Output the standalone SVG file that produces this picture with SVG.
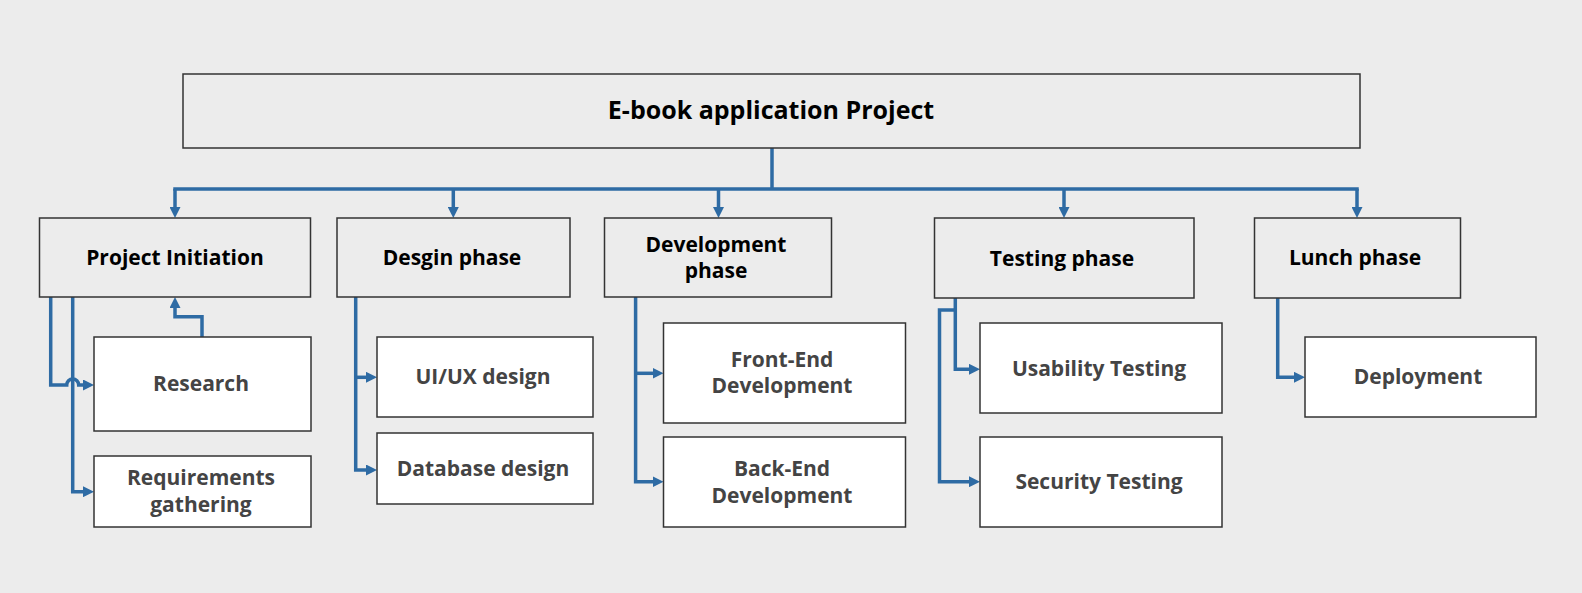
<svg xmlns="http://www.w3.org/2000/svg" width="1582" height="593" viewBox="0 0 1582 593">
<style>
.bg{fill:#ececec}
.phase{fill:#ececec;stroke:#333;stroke-width:1.5}
.child{fill:#ffffff;stroke:#333;stroke-width:1.5}
.t{font-family:"Open Sans","Noto Sans",sans-serif;font-weight:bold;text-anchor:middle}
.pt{font-size:21px;fill:#000}
.ct{font-size:21px;fill:#444}
.tt{font-size:25px;fill:#000}
.c{fill:none;stroke:#2e6ba4;stroke-width:3.5;stroke-linejoin:miter}
</style>
<defs>
<marker id="ah" markerUnits="userSpaceOnUse" markerWidth="11" markerHeight="11" refX="1" refY="5.5" orient="auto">
<path d="M0,0 L11,5.5 L0,11 z" fill="#2e6ba4"/>
</marker>
</defs>
<rect class="bg" x="0" y="0" width="1582" height="593"/>

<g id="connectors">
<path class="c" d="M772,148 V189"/>
<path class="c" d="M175,189 H1357" stroke-linecap="square"/>
<path class="c" d="M175,189 V208" marker-end="url(#ah)"/>
<path class="c" d="M453.3,189 V208" marker-end="url(#ah)"/>
<path class="c" d="M718.5,189 V208" marker-end="url(#ah)"/>
<path class="c" d="M1064,189 V208" marker-end="url(#ah)"/>
<path class="c" d="M1357,189 V208" marker-end="url(#ah)"/>
<path class="c" d="M72.7,297 V491.7 H84" marker-end="url(#ah)"/>
<path class="c" d="M50.7,297 V385 H66.7 A6,6 0 0 1 78.7,385 H84" marker-end="url(#ah)"/>
<path class="c" d="M202,337 V316.7 H175 V307" marker-end="url(#ah)"/>
<path class="c" d="M355.7,297 V470 H367" marker-end="url(#ah)"/>
<path class="c" d="M355.7,377.3 H367" marker-end="url(#ah)"/>
<path class="c" d="M635.6,297 V481.7 H653.5" marker-end="url(#ah)"/>
<path class="c" d="M635.6,373.3 H653.5" marker-end="url(#ah)"/>
<path class="c" d="M955.3,298 V369.3 H970" marker-end="url(#ah)"/>
<path class="c" d="M955.3,310 H939.5 V481.7 H970" marker-end="url(#ah)"/>
<path class="c" d="M1277.7,297.7 V377.3 H1295" marker-end="url(#ah)"/>
</g>

<g id="root">
<rect class="phase" x="183" y="74" width="1177" height="74"/>
<text class="t tt" x="771" y="119">E-book application Project</text>
</g>

<g id="project-initiation">
<rect class="phase" x="39.5" y="218" width="271" height="79"/>
<text class="t pt" x="175" y="265">Project Initiation</text>
</g>
<g id="research">
<rect class="child" x="94" y="337" width="217" height="94"/>
<text class="t ct" x="201" y="391">Research</text>
</g>
<g id="requirements">
<rect class="child" x="94" y="456" width="217" height="71"/>
<text class="t ct" x="201" y="485">Requirements</text>
<text class="t ct" x="201" y="512">gathering</text>
</g>

<g id="design-phase">
<rect class="phase" x="337" y="218" width="233" height="79"/>
<text class="t pt" x="452" y="265">Desgin phase</text>
</g>
<g id="uiux">
<rect class="child" x="377" y="337" width="216" height="80"/>
<text class="t ct" x="483" y="384">UI/UX design</text>
</g>
<g id="database">
<rect class="child" x="377" y="433" width="216" height="71"/>
<text class="t ct" x="483" y="476">Database design</text>
</g>

<g id="development-phase">
<rect class="phase" x="604.5" y="218" width="227" height="79"/>
<text class="t pt" x="716" y="252">Development</text>
<text class="t pt" x="716" y="278">phase</text>
</g>
<g id="frontend">
<rect class="child" x="663.5" y="323" width="242" height="100"/>
<text class="t ct" x="782" y="367">Front-End</text>
<text class="t ct" x="782" y="393">Development</text>
</g>
<g id="backend">
<rect class="child" x="663.5" y="437" width="242" height="90"/>
<text class="t ct" x="782" y="476">Back-End</text>
<text class="t ct" x="782" y="503">Development</text>
</g>

<g id="testing-phase">
<rect class="phase" x="934.5" y="218" width="259.5" height="80"/>
<text class="t pt" x="1062" y="266">Testing phase</text>
</g>
<g id="usability">
<rect class="child" x="980" y="323" width="242" height="90"/>
<text class="t ct" x="1099" y="376">Usability Testing</text>
</g>
<g id="security">
<rect class="child" x="980" y="437" width="242" height="90"/>
<text class="t ct" x="1099" y="489">Security Testing</text>
</g>

<g id="lunch-phase">
<rect class="phase" x="1254.5" y="218" width="206" height="80"/>
<text class="t pt" x="1355" y="265">Lunch phase</text>
</g>
<g id="deployment">
<rect class="child" x="1305" y="337" width="231" height="80"/>
<text class="t ct" x="1418" y="384">Deployment</text>
</g>
</svg>
